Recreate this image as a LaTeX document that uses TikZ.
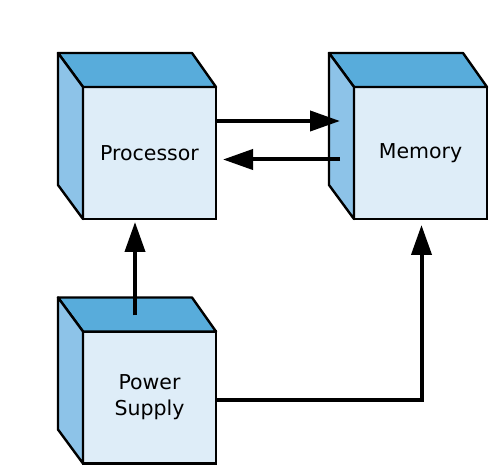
\documentclass[tikz,border=0pt]{standalone}
\usepackage{fontspec}
\setmainfont{DejaVu Sans}
\usetikzlibrary{arrows.meta,positioning}

\definecolor{frontblue}{RGB}{222,237,248}
\definecolor{topblue}{RGB}{88,172,219}
\definecolor{sideblue}{RGB}{141,195,232}

\begin{document}
\begin{tikzpicture}[x=1pt,y=1pt]
\tikzset{
  unit/.style={draw, line width=2.4pt, fill=frontblue, minimum width=133pt,
    minimum height=132pt, inner sep=0pt, outer sep=0pt, align=center,
    font=\fontsize{20.5}{26}\selectfont},
  topface/.style={draw, line width=2.4pt, fill=topblue, line join=round},
  sideface/.style={draw, line width=2.4pt, fill=sideblue, line join=round},
  link/.style={line width=4pt, -{Triangle[length=30pt,width=20pt]}}
}
\useasboundingbox (0,0) rectangle (490,466);
% front faces
\node [unit] (proc) at (149.5,313) {Processor};
\node [unit] (mem) at (420.5,313) {Memory};
\node [unit] (pow) at (149.5,68.5) {Power\\Supply};
% top and side faces
\draw [topface] (proc.north west) -- ++(-25,34) -- ([shift={(-24,34)}]proc.north east) -- (proc.north east) -- cycle;
\draw [sideface] (proc.north west) -- ++(-25,34) -- ([shift={(-25,34)}]proc.south west) -- (proc.south west) -- cycle;
\draw [topface] (mem.north west) -- ++(-25,34) -- ([shift={(-24,34)}]mem.north east) -- (mem.north east) -- cycle;
\draw [sideface] (mem.north west) -- ++(-25,34) -- ([shift={(-25,34)}]mem.south west) -- (mem.south west) -- cycle;
\draw [topface] (pow.north west) -- ++(-25,34) -- ([shift={(-24,34)}]pow.north east) -- (pow.north east) -- cycle;
\draw [sideface] (pow.north west) -- ++(-25,34) -- ([shift={(-25,34)}]pow.south west) -- (pow.south west) -- cycle;
% connectors
\draw [link] ([yshift=32pt]proc.east) -- ([shift={(-14pt,32pt)}]mem.west);
\draw [link] ([shift={(-14pt,-6.5pt)}]mem.west) -- ([shift={(7pt,-6.5pt)}]proc.east);
\draw [link] ([shift={(-14.5pt,16pt)}]pow.north) -- ([shift={(-14.5pt,-3pt)}]proc.south);
\draw [link] ([yshift=-2.5pt]pow.east) -| ([shift={(1pt,-6pt)}]mem.south);
\end{tikzpicture}
\end{document}
